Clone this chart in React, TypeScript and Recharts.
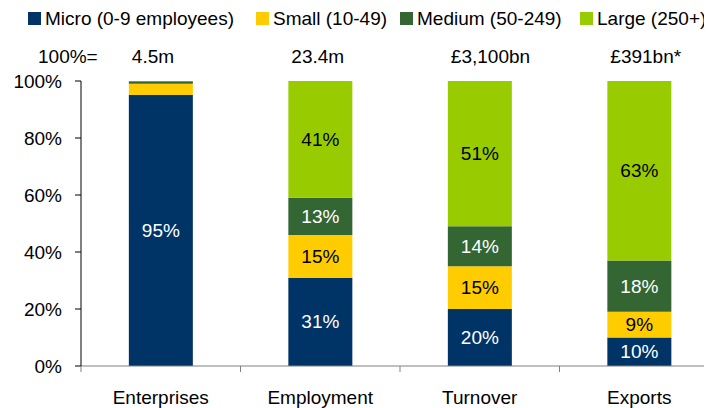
import React from 'react';
import { BarChart, Bar, XAxis, YAxis, LabelList } from 'recharts';

const categories = ['Enterprises', 'Employment', 'Turnover', 'Exports'];
const totals = ['4.5m', '23.4m', '£3,100bn', '£391bn*'];
const micro = [95.1, 31, 20, 10];
const small = [3.9, 15, 15, 9];
const medium = [0.9, 13, 14, 18];
const large = [0.1, 41, 51, 63];
const yTicks = [0, 20, 40, 60, 80, 100];

const series = [
  { key: 'micro', name: 'Micro (0-9 employees)', color: '#003366', text: '#ffffff' },
  { key: 'small', name: 'Small (10-49)', color: '#ffcc00', text: '#000000' },
  { key: 'medium', name: 'Medium (50-249)', color: '#336633', text: '#ffffff' },
  { key: 'large', name: 'Large (250+)', color: '#99cc00', text: '#000000' },
];
const legendLeft = [20, 248, 392, 572];

const data = categories.map((name, i) => ({
  name,
  micro: micro[i],
  small: small[i],
  medium: medium[i],
  large: large[i],
}));

const FONT = '"Liberation Sans", Arial, Helvetica, sans-serif';

const segLabel = (color: string) => (props: any) => {
  const { x, y, width, height, value } = props;
  if (value == null || value < 5) return null;
  return (
    <text
      x={Number(x) + Number(width) / 2}
      y={Number(y) + Number(height) / 2}
      fill={color}
      textAnchor="middle"
      dominantBaseline="central"
      fontSize={19}
      fontFamily={FONT}
    >
      {Math.round(value)}%
    </text>
  );
};

const totalLabel = (props: any) => {
  const { x, index } = props;
  return (
    <text x={Number(x) + 3} y={55} fill="#000" fontSize={19} fontFamily={FONT} textAnchor="start">
      {totals[index]}
    </text>
  );
};

const CategoryTick = (props: any) => {
  const { x, y, payload } = props;
  const half = payload.offset || 79.75;
  return (
    <g>
      <line x1={x - half} x2={x - half} y1={y - 8} y2={y - 2} stroke="#808080" />
      <text x={x} y={y + 30} fill="#000" fontSize={19} fontFamily={FONT} textAnchor="middle">
        {payload.value}
      </text>
    </g>
  );
};

export default function App() {
  return (
    <div style={{ position: 'relative', width: 704, height: 400, overflow: 'hidden', fontFamily: FONT }}>
      {series.map((s, i) => (
        <div
          key={s.key}
          style={{
            position: 'absolute',
            left: legendLeft[i],
            top: 1,
            display: 'flex',
            alignItems: 'center',
            fontSize: 19,
            lineHeight: '19px',
            whiteSpace: 'nowrap',
            color: '#000',
          }}
        >
          <span style={{ display: 'inline-block', width: 13, height: 13, background: s.color, marginRight: 4 }} />
          {s.name}
        </div>
      ))}
      <div style={{ position: 'absolute', left: 30, top: 39, fontSize: 19, lineHeight: '19px', color: '#000' }}>
        100%=
      </div>
      <BarChart
        width={711}
        height={400}
        data={data}
        margin={{ top: 73, right: 0, bottom: 0, left: 0 }}
        barCategoryGap="30%"
      >
        <XAxis
          dataKey="name"
          height={42}
          axisLine={{ stroke: '#808080' }}
          tickLine={false}
          tick={<CategoryTick />}
          interval={0}
        />
        <YAxis
          width={73}
          domain={[0, 100]}
          ticks={yTicks}
          tickFormatter={(v: number) => `${v}%`}
          axisLine={{ stroke: '#000' }}
          tickLine={{ stroke: '#000' }}
          tickSize={6}
          tickMargin={13}
          tick={{ fill: '#000', fontSize: 19, fontFamily: FONT }}
        />
        {series.map((s, i) => (
          <Bar key={s.key} dataKey={s.key} stackId="a" fill={s.color} isAnimationActive={false}>
            <LabelList dataKey={s.key} content={segLabel(s.text)} />
            {i === series.length - 1 && <LabelList dataKey={s.key} content={totalLabel} />}
          </Bar>
        ))}
      </BarChart>
    </div>
  );
}
